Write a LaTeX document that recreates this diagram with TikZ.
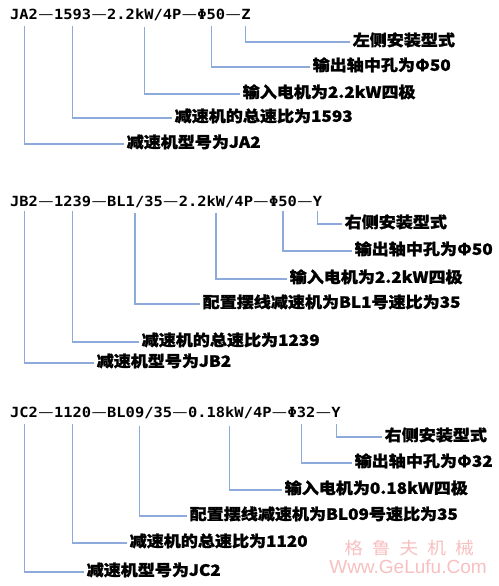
\documentclass[tikz,border=0pt]{standalone}
\usepackage{fontspec}
\newfontfamily\cjk{Noto Sans CJK SC}[FakeStretch=1.1,BoldFeatures={FakeBold=1.2}]
\newfontfamily\codefont{DejaVu Sans Mono}[FakeStretch=1.1]
\newfontfamily\wmfont{Liberation Sans}
\definecolor{leader}{RGB}{142,170,219}
\definecolor{wmpink}{RGB}{248,192,192}
\begin{document}
\begin{tikzpicture}[x=1pt,y=-1pt,
  code/.style={inner sep=0pt,font=\codefont\bfseries\fontsize{14}{16}\selectfont},
  dashn/.style={inner sep=0pt,font=\cjk\fontsize{15.5}{18}\selectfont},
  lab/.style={anchor=west,inner ysep=0pt,inner xsep=2.5pt,text height=0.88em,text depth=0.12em,
    font=\cjk\bfseries\fontsize{15.5}{18}\selectfont},
  lead/.style={draw=leader,line width=1.2pt}]
\useasboundingbox[fill=white] (0,0) rectangle (498,586);

% ---------- block 1 ----------
\node[code,anchor=base west] (a1) at (10,20) {JA2};
\node[dashn,anchor=base west] (a1d) at (a1.base east) {—};
\node[code,anchor=base west] (a2) at (a1d.base east) {1593};
\node[dashn,anchor=base west] (a2d) at (a2.base east) {—};
\node[code,anchor=base west] (a3) at (a2d.base east) {2.2kW/4P};
\node[dashn,anchor=base west] (a3d) at (a3.base east) {—};
\node[code,anchor=base west] (a4) at (a3d.base east) {Φ50};
\node[dashn,anchor=base west] (a4d) at (a4.base east) {—};
\node[code,anchor=base west] (a5) at (a4d.base east) {Z};

\node[lab] (l1) at (124,144) {减速机型号为JA2};
\node[lab] (l2) at (172,118) {减速机的总速比为1593};
\node[lab] (l3) at (240,94) {输入电机为2.2kW四极};
\node[lab] (l4) at (310,67) {输出轴中孔为Φ50};
\node[lab] (l5) at (350,42) {左侧安装型式};

\draw[lead] ([yshift=-6pt]a1.south) |- (l1.west);
\draw[lead] ([yshift=-6pt]a2.south) |- (l2.west);
\draw[lead] ([yshift=-6pt]a3.south) |- (l3.west);
\draw[lead] ([yshift=-6pt]a4.south) |- (l4.west);
\draw[lead] ([yshift=-6pt]a5.south) |- (l5.west);

% ---------- block 2 ----------
\node[code,anchor=base west] (b1) at (10,206) {JB2};
\node[dashn,anchor=base west] (b1d) at (b1.base east) {—};
\node[code,anchor=base west] (b2) at (b1d.base east) {1239};
\node[dashn,anchor=base west] (b2d) at (b2.base east) {—};
\node[code,anchor=base west] (b3) at (b2d.base east) {BL1/35};
\node[dashn,anchor=base west] (b3d) at (b3.base east) {—};
\node[code,anchor=base west] (b4) at (b3d.base east) {2.2kW/4P};
\node[dashn,anchor=base west] (b4d) at (b4.base east) {—};
\node[code,anchor=base west] (b5) at (b4d.base east) {Φ50};
\node[dashn,anchor=base west] (b5d) at (b5.base east) {—};
\node[code,anchor=base west] (b6) at (b5d.base east) {Y};

\node[lab] (m1) at (94,363) {减速机型号为JB2};
\node[lab] (m2) at (139,342) {减速机的总速比为1239};
\node[lab] (m3) at (200,304) {配置摆线减速机为BL1号速比为35};
\node[lab] (m4) at (287,279) {输入电机为2.2kW四极};
\node[lab] (m5) at (352,251) {输出轴中孔为Φ50};
\node[lab] (m6) at (342,224) {右侧安装型式};

\draw[lead] ([yshift=-5pt]b1.south) |- (m1.west);
\draw[lead] ([yshift=-5pt]b2.south) |- (m2.west);
\draw[lead] ([yshift=-5pt]b3.south) |- (m3.west);
\draw[lead] ([yshift=-5pt]b4.south) |- (m4.west);
\draw[lead] ([yshift=-5pt]b5.south) |- (m5.west);
\draw[lead] ([yshift=-5pt]b6.south) |- (m6.west);

% ---------- block 3 ----------
\node[code,anchor=base west] (c1) at (10,417) {JC2};
\node[dashn,anchor=base west] (c1d) at (c1.base east) {—};
\node[code,anchor=base west] (c2) at (c1d.base east) {1120};
\node[dashn,anchor=base west] (c2d) at (c2.base east) {—};
\node[code,anchor=base west] (c3) at (c2d.base east) {BL09/35};
\node[dashn,anchor=base west] (c3d) at (c3.base east) {—};
\node[code,anchor=base west] (c4) at (c3d.base east) {0.18kW/4P};
\node[dashn,anchor=base west] (c4d) at (c4.base east) {—};
\node[code,anchor=base west] (c5) at (c4d.base east) {Φ32};
\node[dashn,anchor=base west] (c5d) at (c5.base east) {—};
\node[code,anchor=base west] (c6) at (c5d.base east) {Y};

\node[lab] (n1) at (84,572) {减速机型号为JC2};
\node[lab] (n2) at (127,543) {减速机的总速比为1120};
\node[lab] (n3) at (187,516) {配置摆线减速机为BL09号速比为35};
\node[lab] (n4) at (282,490) {输入电机为0.18kW四极};
\node[lab] (n5) at (352,463) {输出轴中孔为Φ32};
\node[lab] (n6) at (382,437) {右侧安装型式};

\draw[lead] ([yshift=-7pt]c1.south) |- (n1.west);
\draw[lead] ([yshift=-7pt]c2.south) |- (n2.west);
\draw[lead] ([yshift=-7pt]c3.south) |- (n3.west);
\draw[lead] ([yshift=-7pt]c4.south) |- (n4.west);
\draw[lead] ([yshift=-7pt]c5.south) |- (n5.west);
\draw[lead] ([yshift=-7pt]c6.south) |- (n6.west);

% ---------- watermark ----------
\node[inner sep=0pt,text=wmpink,font=\cjk\fontsize{17}{19}\selectfont] (wm1) at (409,548)
  {格\hspace{9pt}鲁\hspace{9pt}夫\hspace{9pt}机\hspace{9pt}械};
\node[inner sep=0pt,text=wmpink,font=\wmfont\fontsize{19}{21}\selectfont] (wm2) at (408,567) {Www.GeLufu.Com};
\end{tikzpicture}
\end{document}
